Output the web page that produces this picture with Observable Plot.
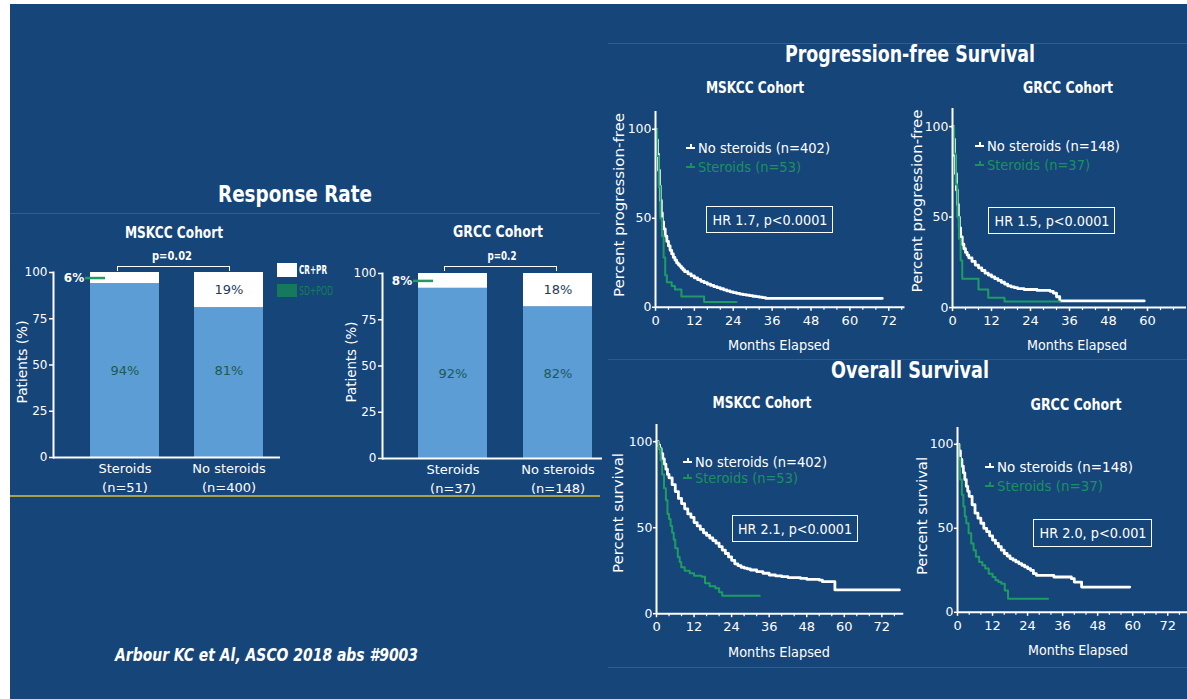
<!DOCTYPE html>
<html><head><meta charset="utf-8">
<script src="https://cdn.jsdelivr.net/npm/d3@7"></script>
<script src="https://cdn.jsdelivr.net/npm/@observablehq/plot@0.6"></script>
<style>
html,body{margin:0;padding:0;background:#fff;}
#root{position:absolute;left:0;top:0;width:1187px;height:699px;overflow:hidden;background:#fff;}
#bg{position:absolute;left:10px;top:4px;width:1177px;height:695px;background:#16457a;}
</style></head>
<body><div id="root"><div id="bg"></div></div>
<script>
// ---------- DATA ----------
const rrGroups = ["Steroids", "No steroids"];
const rrMskccN = ["(n=51)", "(n=400)"];
const rrMskccSdPod = [94, 81];
const rrMskccCrPr = [6, 19];
const rrGrccN = ["(n=37)", "(n=148)"];
const rrGrccSdPod = [92, 82];
const rrGrccCrPr = [8, 18];
const rrYTicks = [0, 25, 50, 75, 100];
const kmYTicks = [0, 50, 100];

// PFS MSKCC
const pfsMskccNoT = [0, 0.3, 0.6, 0.9, 1.2, 1.5, 1.8, 2.1, 2.5, 3, 3.5, 4, 4.5, 5, 5.5, 6, 6.5, 7, 7.5, 8, 8.5, 9, 10, 11, 12, 13, 14, 15, 16, 17, 18, 19, 20, 21, 22, 23, 24, 25, 26, 27, 28, 29, 30, 31, 32, 33, 34, 70];
const pfsMskccNoS = [100, 94, 86, 77, 68, 60, 53, 48, 44, 40, 37, 34.5, 32, 30, 28, 26.5, 25, 24, 23, 22, 21, 20, 18.8, 17.6, 16.5, 15.5, 14.6, 13.8, 13, 12.3, 11.6, 11, 10.4, 9.8, 9.2, 8.7, 8.2, 7.8, 7.4, 7.1, 6.8, 6.5, 6.2, 6, 5.7, 5.4, 5, 5];
const pfsMskccStT = [0, 0.5, 1, 1.5, 2, 2.5, 3, 3.5, 5, 6, 8, 15, 25];
const pfsMskccStS = [100, 85, 68, 50, 40, 28, 18, 14, 12, 10, 6, 3, 3];
// PFS GRCC
const pfsGrccNoT = [0, 0.3, 0.6, 0.9, 1.2, 1.5, 1.8, 2.1, 2.5, 3, 3.5, 4, 4.5, 5, 6, 7, 8, 9, 10, 11, 12, 13, 14, 15, 16, 17, 18, 19, 20, 22, 26, 30, 31, 32, 33, 59];
const pfsGrccNoS = [100, 93, 84, 74, 65, 57, 50, 44, 39, 35, 32.5, 30.5, 29, 27.5, 25.5, 23.5, 22, 20.5, 19, 18, 17, 16, 15, 14, 13, 12, 11.5, 11, 10.5, 10, 9.5, 9, 8, 6, 3.7, 3.7];
const pfsGrccStT = [0, 0.5, 1, 1.5, 2, 2.5, 3, 8, 11, 16, 33];
const pfsGrccStS = [100, 85, 68, 50, 38, 26, 16, 10, 5.5, 3.3, 3.3];
// OS MSKCC
const osMskccNoT = [0, 0.5, 1, 1.5, 2, 2.5, 3, 3.5, 4, 5, 6, 7, 8, 9, 10, 11, 12, 13, 14, 15, 16, 17, 18, 19, 20, 21, 22, 23, 24, 25, 26, 27, 28, 29, 30, 32, 34, 36, 38, 40, 42, 46, 48, 52, 53, 56, 57, 77.6];
const osMskccNoS = [100, 98, 96, 93, 90, 87, 84, 81, 79, 75, 71, 67, 64, 61, 58, 56, 53, 51, 49, 47, 45.5, 44, 42.5, 41, 39, 37, 35, 33, 31, 29, 28, 27, 26.5, 26, 25.4, 24.5, 23.5, 22.5, 22, 21.5, 21, 20.5, 20, 19.5, 18.6, 18.6, 13.8, 13.8];
const osMskccStT = [0, 0.5, 0.8, 1.3, 1.8, 2.4, 3, 3.5, 4, 4.5, 5, 5.5, 6, 6.8, 7.4, 7.9, 9, 10.6, 12, 14.4, 15.5, 17, 18.8, 20, 21, 33];
const osMskccStS = [100, 98, 96, 89, 81, 73, 66, 58, 55, 51, 47, 43, 38, 33, 30, 27, 25, 23.5, 22, 21.5, 17.7, 16, 14.8, 12.5, 10.5, 10.5];
// OS GRCC
const osGrccNoT = [0, 0.5, 1, 1.5, 2, 2.5, 3, 3.5, 4, 5, 6, 7, 8, 9, 10, 11, 12, 13, 14, 15, 16, 17, 18, 19, 20, 21, 22, 23, 24, 25, 26, 27, 30, 33, 36, 39, 40, 42.5, 59];
const osGrccNoS = [100, 96, 91, 87, 83, 79, 75, 72, 69, 64, 59, 56, 53, 50, 48, 45.5, 43, 41, 39, 37, 35, 33.5, 32, 31, 30, 29, 28, 27, 26, 25, 23, 22, 22, 21, 21, 20, 18, 15, 15];
const osGrccStT = [0, 0.3, 0.9, 1.5, 2, 2.5, 3, 3.8, 4.7, 5.5, 6.3, 7.4, 8.5, 9.5, 10.7, 12, 13, 14, 15, 16.2, 17.3, 31];
const osGrccStS = [100, 92, 79, 70, 63, 57, 53, 47, 41, 37, 33, 30, 28, 26, 23, 21, 19, 18, 17, 13, 8, 8];

// ---------- STYLE ----------
const FONT = '"DejaVu Sans", Verdana, sans-serif';
const BAR_BLUE = "#5c9dd6";
const GREEN = "#1f9c63";
const GREEN_TXT = "#1d9060";
const TEAL_TXT = "#1c5a52";
const root = document.getElementById("root");

function label(txt, x, y, o = {}) {
  const d = document.createElement("div");
  d.textContent = txt;
  d.style.cssText = `position:absolute;left:${x}px;top:${y}px;white-space:nowrap;line-height:1;` +
    `font-family:${FONT};font-size:${o.size || 13}px;font-weight:${o.weight || 400};` +
    `font-style:${o.italic ? "italic" : "normal"};color:${o.color || "#fff"};`;
  root.appendChild(d);
  const w = d.getBoundingClientRect().width;
  const k = o.width ? o.width / w : 1;
  if (o.rotate) {
    d.style.transformOrigin = "center center";
    d.style.transform = `translate(-50%,-50%) rotate(-90deg) scaleX(${k})`;
  } else if (o.anchor === "start") {
    d.style.transformOrigin = "left center";
    d.style.transform = `translate(0,-50%) scaleX(${k})`;
  } else {
    d.style.transformOrigin = "center center";
    d.style.transform = `translate(-50%,-50%) scaleX(${k})`;
  }
  return d;
}
function box(x, y, w, h, css) {
  const d = document.createElement("div");
  d.style.cssText = `position:absolute;left:${x}px;top:${y}px;width:${w}px;height:${h}px;box-sizing:border-box;${css}`;
  root.appendChild(d);
  return d;
}
function place(svg, left, top) {
  svg.style.position = "absolute";
  svg.style.left = left + "px";
  svg.style.top = top + "px";
  root.appendChild(svg);
}

// decorative rules
box(10, 213, 590, 1, "background:#2f5f92");
box(10, 495, 590, 2, "background:#a9a14c");
box(608, 43, 579, 1, "background:#2f5f92");
box(608, 359, 579, 1, "background:#2a5a8e");
box(608, 667, 579, 1, "background:#2f5f92");

// ---------- RESPONSE RATE BARS ----------
function rrChart(cfg) {
  const rows = [];
  rrGroups.forEach((g, i) => {
    rows.push({group: g, seg: "SD+POD", value: cfg.sd[i]});
    rows.push({group: g, seg: "CR+PR", value: cfg.cr[i]});
  });
  const maxSd = d3.max(cfg.sd);
  const sdRows = rows.filter(r => r.seg === "SD+POD");
  const crRows = rows.filter(r => r.seg === "CR+PR");
  const mL = 40, mT = 6, mR = 4, mB = 45;
  const fw = cfg.xEnd - cfg.x0, fh = cfg.y0 - cfg.y100;
  const svg = Plot.plot({
    width: mL + fw + mR, height: mT + fh + mB,
    marginLeft: mL, marginTop: mT, marginRight: mR, marginBottom: mB,
    style: {background: "transparent", color: "#fff", fontFamily: FONT, fontSize: "12px", overflow: "visible"},
    x: {type: "band", domain: rrGroups, paddingInner: cfg.pad, paddingOuter: 0, insetLeft: cfg.insL, insetRight: cfg.insR, label: null},
    y: {domain: [0, 100], label: null},
    marks: [
      Plot.barY(rows, {x: "group", y: "value", fill: d => d.seg === "CR+PR" ? "#ffffff" : BAR_BLUE}),
      Plot.text(sdRows, {x: "group", y: () => maxSd / 2, text: d => d.value + "%", fill: TEAL_TXT, fontSize: 13}),
      Plot.text(crRows.filter(d => d.value >= 10), {x: "group", y: d => 100 - d.value / 2, text: d => d.value + "%", fill: "#1b3c5e", fontSize: 13}),
      Plot.text(crRows.filter(d => d.value < 10), {x: "group", y: d => 100 - d.value / 2, text: d => d.value + "%", fill: "#fff", fontWeight: "bold", fontSize: 12, dx: -51}),
      Plot.tickY(crRows.filter(d => d.value < 10), {x: "group", y: d => 100 - d.value / 2, stroke: GREEN, strokeWidth: 2.5, insetLeft: -5, insetRight: 54}),
      Plot.axisY({ticks: rrYTicks, tickSize: 4, tickPadding: 2, strokeWidth: 1.5, fontSize: 12}),
      Plot.axisX({tickSize: 0, tickPadding: 3, fontSize: 13, lineHeight: 1.4, tickFormat: (g) => g + "\n" + cfg.n[rrGroups.indexOf(g)]}),
      Plot.frame({anchor: "left", strokeWidth: 2}),
      Plot.ruleY([0], {strokeWidth: 2})
    ]
  });
  place(svg, cfg.x0 - mL, cfg.y100 - mT);
}
rrChart({x0: 53, xEnd: 280, y0: 457, y100: 272, pad: 0.337, insL: 37, insR: 17, sd: rrMskccSdPod, cr: rrMskccCrPr, n: rrMskccN});
rrChart({x0: 382, xEnd: 602, y0: 458, y100: 273, pad: 0.343, insL: 36, insR: 10, sd: rrGrccSdPod, cr: rrGrccCrPr, n: rrGrccN});

// brackets and p-values
box(117, 266, 113, 5, "border:1.5px solid #fff;border-bottom:none");
box(444, 266, 113, 5, "border:1.5px solid #fff;border-bottom:none");
label("p=0.02", 172, 255, {size: 13, weight: 700, width: 40});
label("p=0.2", 502, 255, {size: 13, weight: 700, width: 29});
label("MSKCC Cohort", 174, 233, {size: 15, weight: 700, width: 98});
label("GRCC Cohort", 498, 232, {size: 15, weight: 700, width: 90});
label("Patients (%)", 22, 362, {size: 14, rotate: true, width: 83});
label("Patients (%)", 351, 362, {size: 14, rotate: true, width: 81});
// RR legend
box(277, 263, 20, 14, "background:#fff");
box(277, 284, 20, 13, "background:#16785c");
label("CR+PR", 299, 270, {size: 12, weight: 700, anchor: "start", width: 28});
label("SD+POD", 299, 291, {size: 12, anchor: "start", width: 34, color: "#1a7c5e"});
label("Response Rate", 295, 194, {size: 23, weight: 700, width: 154});

// ---------- KAPLAN-MEIER ----------
function kmChart(cfg) {
  const rows = [];
  cfg.noT.forEach((t, i) => rows.push({grp: "No steroids", t, s: cfg.noS[i]}));
  cfg.stT.forEach((t, i) => rows.push({grp: "Steroids", t, s: cfg.stS[i]}));
  const mL = 40, mT = 4, mR = 6, mB = 30, yMax = 110;
  const fw = cfg.pxX * cfg.xMax, fh = cfg.pxY * yMax;
  const minor = d3.range(0, cfg.xMax + 0.01, 4).filter(v => v % 12 !== 0);
  const svg = Plot.plot({
    width: mL + fw + mR, height: mT + fh + mB,
    marginLeft: mL, marginTop: mT, marginRight: mR, marginBottom: mB,
    style: {background: "transparent", color: "#fff", fontFamily: FONT, fontSize: "12.5px", overflow: "visible"},
    x: {domain: [0, cfg.xMax], label: null},
    y: {domain: [0, yMax], label: null},
    marks: [
      Plot.line(rows.filter(d => d.grp === "No steroids"), {x: "t", y: "s", stroke: "#fff", strokeWidth: 2.8, curve: "step-after"}),
      Plot.line(rows.filter(d => d.grp === "Steroids"), {x: "t", y: "s", stroke: GREEN, strokeWidth: 2, curve: "step-after"}),
      Plot.ruleX([0], {strokeWidth: 2}),
      Plot.ruleY([0], {strokeWidth: 2}),
      Plot.axisY({ticks: kmYTicks, tickSize: 3, tickPadding: 1, strokeWidth: 1.5, fontSize: 12.5}),
      Plot.axisX({ticks: cfg.ticks, tickSize: 4, tickPadding: 4, strokeWidth: 1.5, fontSize: 13}),
      Plot.axisX({ticks: minor, tickSize: 3, strokeWidth: 1.2, tickFormat: () => ""})
    ]
  });
  place(svg, cfg.x0 - mL, cfg.y0 - fh - mT);
}
const t72 = [0, 12, 24, 36, 48, 60, 72];
const t60 = [0, 12, 24, 36, 48, 60];
kmChart({x0: 655, y0: 307, pxX: 3.24, pxY: 1.78, xMax: 77, ticks: t72, noT: pfsMskccNoT, noS: pfsMskccNoS, stT: pfsMskccStT, stS: pfsMskccStS});
kmChart({x0: 952, y0: 307, pxX: 3.25, pxY: 1.81, xMax: 72, ticks: t60, noT: pfsGrccNoT, noS: pfsGrccNoS, stT: pfsGrccStT, stS: pfsGrccStS});
kmChart({x0: 655.5, y0: 613, pxX: 3.13, pxY: 1.72, xMax: 79, ticks: t72, noT: osMskccNoT, noS: osMskccNoS, stT: osMskccStT, stS: osMskccStS});
kmChart({x0: 957, y0: 612, pxX: 2.92, pxY: 1.68, xMax: 79, ticks: t72, noT: osGrccNoT, noS: osGrccNoS, stT: osGrccStT, stS: osGrccStS});

function kmLegend(x, y1, y2, noTxt, stTxt, w1, w2) {
  box(x, y1 - 1, 9, 2, "background:#fff");
  box(x + 4, y1 - 4, 1.5, 3, "background:#fff");
  label(noTxt, x + 12, y1, {size: 14, anchor: "start", width: w1});
  box(x, y2 - 1, 9, 2, "background:" + GREEN_TXT);
  box(x + 4, y2 - 4, 1.5, 3, "background:" + GREEN_TXT);
  label(stTxt, x + 12, y2, {size: 14, anchor: "start", width: w2, color: GREEN_TXT});
}
function hrBox(x, y, w, h, txt) {
  box(x, y, w, h, "border:1.6px solid #fff");
  label(txt, x + w / 2, y + h / 2, {size: 14, width: w - 12});
}
kmLegend(686, 148, 167, "No steroids (n=402)", "Steroids (n=53)", 132, 103);
kmLegend(975, 146, 165, "No steroids (n=148)", "Steroids (n=37)", 133, 103);
kmLegend(683, 462, 478, "No steroids (n=402)", "Steroids (n=53)", 132, 103);
kmLegend(985, 467, 486, "No steroids (n=148)", "Steroids (n=37)", 136, 106);
hrBox(706, 206, 127, 27, "HR 1.7, p<0.0001");
hrBox(988, 207, 127, 27, "HR 1.5, p<0.0001");
hrBox(732, 515, 126, 27, "HR 2.1, p<0.0001");
hrBox(1033, 519, 119, 28, "HR 2.0, p<0.001");

label("Progression-free Survival", 910, 54, {size: 23, weight: 700, width: 250});
label("Overall Survival", 910, 370, {size: 23, weight: 700, width: 158});
label("MSKCC Cohort", 755, 88, {size: 15, weight: 700, width: 98});
label("GRCC Cohort", 1068, 88, {size: 15, weight: 700, width: 90});
label("MSKCC Cohort", 762, 403, {size: 15, weight: 700, width: 99});
label("GRCC Cohort", 1076, 405, {size: 15, weight: 700, width: 91});
label("Percent progression-free", 619, 205, {size: 14, rotate: true, width: 184});
label("Percent progression-free", 917, 201, {size: 14, rotate: true, width: 183});
label("Percent survival", 618, 513, {size: 14, rotate: true, width: 120});
label("Percent survival", 922, 516, {size: 14, rotate: true, width: 118});
label("Months Elapsed", 779, 345, {size: 14, width: 102});
label("Months Elapsed", 1077, 345, {size: 14, width: 100});
label("Months Elapsed", 779, 652, {size: 14, width: 102});
label("Months Elapsed", 1078, 650, {size: 14, width: 100});

label("Arbour KC et Al, ASCO 2018 abs #9003", 115, 655, {size: 17, italic: true, anchor: "start", width: 303, weight: 600});
</script>
</body></html>
